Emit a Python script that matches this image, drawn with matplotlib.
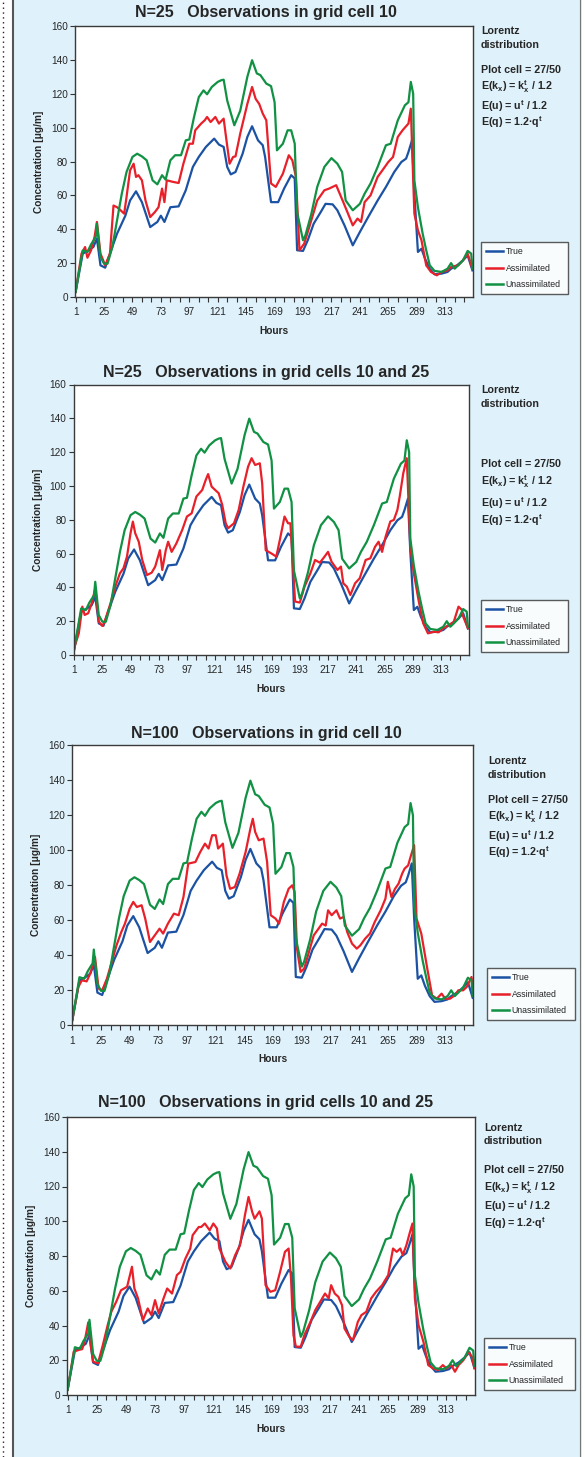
import matplotlib
matplotlib.use('Agg')
import matplotlib.pyplot as plt
from matplotlib.lines import Line2D
from matplotlib.patches import Rectangle

plt.rcParams['font.family'] = ['Liberation Sans', 'DejaVu Sans']
plt.rcParams['mathtext.fontset'] = 'custom'
plt.rcParams['mathtext.bf'] = 'Liberation Sans:bold'
plt.rcParams['mathtext.rm'] = 'Liberation Sans:bold'

# ---- data ----
hours_true = [1, 7, 12, 16, 19, 22, 26, 30, 36, 43, 47, 52, 57, 64, 70, 73, 76, 81, 88, 94,
              100, 105, 111, 118, 122, 126, 129, 132, 136, 142, 146, 150, 155, 159, 161, 166,
              172, 177, 183, 186, 188, 193, 197, 202, 208, 212, 218, 222, 228, 235, 241, 248,
              256, 263, 270, 276, 280, 282, 285, 287, 290, 293, 296, 300, 304, 310, 315, 318,
              323, 328, 332, 336]
conc_true = [3, 25.6, 27.5, 29.5, 34.5, 18.7, 17.3, 25.6, 37.4, 48, 57, 62.4, 56, 41.3, 44.3, 48,
             44.3, 53, 53.5, 63, 76.8, 82.7, 88.6, 93.5, 90, 88.6, 76.8, 72.4, 73.8, 84.6, 94.5,
             100.8, 92.5, 89.6, 82.7, 56, 56, 64, 71.9, 70, 27.6, 27.2, 33.5, 43.3, 50.2, 55, 54.7,
             51.2, 42.3, 30.5, 38.4, 47.2, 57, 65, 73.8, 79.7, 81.7, 85.6, 92.5, 61, 26.6, 28.5,
             22.6, 16.7, 13.4, 13.8, 14.8, 16.7, 18.7, 21.6, 24.6, 15.7]

hours_unassim = [1, 7, 11, 14, 18, 19, 22, 25, 28, 32, 36, 40, 44, 49, 53, 57, 61, 66, 70, 74,
                 77, 81, 85, 90, 94, 97, 101, 105, 109, 112, 116, 121, 124, 126, 129, 135, 140,
                 146, 150, 154, 157, 162, 166, 169, 171, 176, 180, 183, 186, 188, 193, 195, 200,
                 205, 211, 217, 222, 226, 229, 235, 241, 245, 250, 256, 263, 267, 273, 279, 282,
                 284, 286, 287, 290, 294, 297, 300, 304, 310, 315, 318, 321, 324, 328, 332, 335,
                 336]
conc_unassim = [3, 27.5, 26.6, 31, 35.4, 43.3, 23.6, 19.7, 19.7, 29.5, 45.3, 61, 73.8, 82.7, 84.6,
                83, 80.7, 68.9, 66.5, 71.9, 69.3, 80.7, 83.7, 83.7, 92.5, 93, 106.3, 118, 122,
                119.7, 124, 127, 128, 128.3, 116, 101.4, 110, 130, 139.8, 132, 131, 126, 124.5,
                115, 86.6, 90.5, 98.4, 98.4, 90.5, 50, 33.5, 36.4, 49, 65, 76.8, 82, 78.7, 73.8,
                57, 51.2, 55, 61, 67, 76.8, 89.6, 90.5, 104.3, 113.2, 115, 127, 120, 68.9, 53,
                37.4, 27.6, 18.7, 15.4, 14.8, 16.7, 20, 16.7, 18.7, 21.6, 27.2, 25.6, 16.7]

# assimilated runs, one per panel
hours_a1 = [1, 6, 9, 11, 14, 17, 19, 22, 26, 30, 33, 36, 39, 42, 44, 47, 50, 52, 54, 57, 60, 64,
            68, 71, 74, 76, 78, 83, 88, 92, 97, 100, 102, 107, 110, 112, 115, 119, 122, 126, 128,
            131, 134, 136, 140, 146, 150, 153, 156, 159, 162, 166, 170, 176, 181, 184, 187, 190,
            194, 200, 205, 211, 215, 221, 224, 227, 231, 235, 239, 242, 245, 250, 256, 259, 265,
            269, 273, 277, 282, 284, 287, 290, 293, 297, 301, 306, 310, 315, 318, 324, 328, 332,
            336]
conc_a1 = [3, 25.6, 29.5, 23.2, 27.5, 35.4, 44.3, 25.6, 18.7, 25.6, 54, 53, 51.2, 49.2, 59, 74.8,
           78.7, 70.9, 71.9, 68.9, 57, 47.2, 50.2, 53, 64, 56, 68.9, 68, 67.3, 78.7, 90.5, 90.5,
           98.4, 102.4, 104.3, 106.3, 103.3, 106.3, 102.4, 105.3, 94.5, 78.7, 82.7, 83, 96.5,
           114, 124, 117, 114, 108.3, 104.3, 67, 65, 72.8, 83.7, 80.7, 70.9, 27.6, 31.5, 45.3,
           57, 63, 64, 66, 61, 56, 49.2, 42.3, 46.3, 44.3, 56, 60, 70.9, 73.8, 79.7, 82.7, 94.5,
           98.4, 102.4, 111.2, 49.2, 39.4, 33.5, 18.7, 14.8, 12.8, 14.8, 15.7, 17.7, 18.7, 21.6,
           25.6, 16.7]

hours_a2 = [1, 5, 8, 10, 13, 16, 19, 22, 25, 27, 32, 36, 40, 43, 46, 49, 51, 53, 56, 59, 63, 67,
            70, 74, 76, 79, 81, 84, 88, 93, 97, 101, 105, 110, 113, 115, 118, 121, 124, 127, 130,
            132, 137, 141, 145, 149, 152, 155, 159, 161, 164, 169, 173, 176, 180, 183, 185, 189,
            193, 197, 202, 206, 210, 213, 217, 220, 225, 228, 230, 233, 236, 240, 244, 249, 253,
            257, 260, 263, 266, 270, 273, 276, 278, 281, 284, 287, 290, 294, 298, 302, 307, 311,
            315, 320, 324, 328, 331, 332, 336]
conc_a2 = [4, 12.8, 28.6, 23.7, 24.7, 30.6, 39.4, 19.7, 17.2, 19.7, 30.6, 40.4, 48.3, 51.3, 58.2,
           72, 78.9, 72, 67, 56.2, 47.3, 48.7, 52.3, 62, 50.3, 62, 67, 61, 66, 74, 81.9, 83.8,
           93.7, 97.6, 103.6, 107, 99.6, 97.6, 95.7, 88.8, 77.9, 75, 77.9, 85.8, 99.6, 111.4,
           116.4, 112.4, 113.4, 101.6, 62, 60, 58.2, 68, 81.9, 77.9, 77.9, 31.6, 31, 40.4, 48.3,
           56.2, 54.6, 57.2, 61, 55.2, 50.3, 52.3, 42.4, 40.4, 35.5, 42.4, 45.4, 56.2, 57.2, 64,
           67, 61, 70, 79, 79.9, 85.8, 93.7, 107.5, 116.4, 64, 48.3, 32.5, 18.7, 12.8, 13.8,
           13.4, 15.8, 17.8, 19.7, 28.6, 26.6, 22.7, 15.8]

hours_a3 = [1, 6, 9, 13, 16, 20, 23, 26, 30, 34, 38, 42, 45, 49, 52, 55, 59, 62, 66, 70, 74, 77,
            81, 86, 90, 94, 98, 104, 108, 112, 115, 118, 121, 123, 127, 130, 133, 137, 141, 146,
            150, 152, 154, 157, 161, 164, 167, 171, 174, 178, 182, 185, 187, 189, 192, 195, 199,
            203, 207, 210, 213, 215, 218, 222, 225, 228, 231, 235, 239, 242, 246, 250, 254, 259,
            263, 265, 268, 271, 274, 277, 279, 282, 284, 287, 289, 293, 298, 302, 306, 310, 313,
            317, 321, 324, 328, 331, 335, 336]
conc_a3 = [3, 21.9, 25.7, 25.1, 29.5, 39, 21, 20, 26.7, 36.2, 45.7, 53.3, 58, 66.7, 70.5, 67.6,
           68.6, 61, 47.6, 51.4, 55.2, 52.4, 58.1, 63.8, 62.9, 73.3, 92.4, 93.3, 99, 103.8, 101,
           108.6, 108.6, 101, 103.8, 85.7, 78, 79, 86.7, 99, 112.4, 118, 110.5, 105.7, 106.7,
           93.3, 62.9, 61, 58.1, 70.5, 78, 80, 76.2, 43.8, 30.5, 32.4, 41.9, 51.4, 55.2, 58.1,
           57, 65.7, 62.9, 65.7, 61, 61.9, 53.3, 46.7, 43.8, 45.7, 49.5, 52.4, 59, 65.7, 72.4,
           82, 73.3, 78, 81, 86.7, 89.5, 91.4, 96.2, 102.9, 61, 52.4, 32.4, 17.1, 15.2, 18.1,
           15.2, 15.2, 17.1, 20, 20, 21.9, 27.6, 21.9]

hours_a4 = [1, 3, 6, 10, 13, 15, 18, 20, 22, 26, 30, 34, 37, 41, 45, 50, 54, 56, 59, 63, 67, 70,
            73, 76, 80, 83, 87, 91, 94, 98, 102, 104, 109, 111, 114, 118, 121, 124, 126, 131, 135,
            139, 143, 147, 150, 153, 155, 159, 161, 164, 168, 172, 176, 180, 183, 185, 187, 189,
            193, 196, 201, 205, 209, 213, 216, 218, 221, 224, 227, 229, 233, 236, 240, 243, 247,
            251, 255, 260, 265, 269, 272, 275, 277, 280, 283, 285, 287, 290, 294, 298, 302, 306,
            310, 313, 317, 320, 323, 327, 331, 334, 336]
conc_a4 = [3, 11.5, 24.9, 25.9, 26.4, 30.7, 41.8, 28.7, 19.2, 18.2, 28.7, 40.2, 47.9, 53.6, 60.3,
           62.3, 73.8, 61.3, 55.6, 43.1, 49.8, 46, 54.6, 47, 55.6, 61.3, 58.4, 69, 70.9, 78.5,
           84.3, 92, 96.7, 96.7, 98.7, 94.8, 98.7, 95.8, 84.3, 76.6, 72.8, 80.5, 86.2, 103.4,
           114, 105.4, 101.5, 105.7, 101.5, 63.2, 59.4, 60.3, 70.9, 82.4, 84.3, 67, 34.5, 27.8,
           27.8, 34.5, 42.1, 48.9, 53.6, 58.4, 55.6, 63.2, 58.4, 56.5, 51.7, 38.3, 33.5, 31.6,
           42.1, 46, 47.9, 55.6, 59.4, 63.2, 69, 84.3, 82.4, 84.3, 80.5, 86.2, 93.9, 98.7, 55.6,
           40.2, 30.7, 17.2, 15.3, 14.4, 17.2, 15.3, 17.2, 13.4, 17.2, 20.1, 24.9, 22, 15.3]

titles = ['N=25   Observations in grid cell 10',
          'N=25   Observations in grid cells 10 and 25',
          'N=100   Observations in grid cell 10',
          'N=100   Observations in grid cells 10 and 25']
series_labels = ['True', 'Assimilated', 'Unassimilated']
note_lines = ['Lorentz', 'distribution', 'Plot cell = 27/50',
              r'E(k$_\mathbf{x}$) = k$_\mathbf{x}^\mathbf{t}$ / 1.2',
              r'E(u) = u$^\mathbf{t}$ / 1.2',
              r'E(q) = 1.2$\bullet$q$^\mathbf{t}$']
xtick_labels = [1, 25, 49, 73, 97, 121, 145, 169, 193, 217, 241, 265, 289, 313]

assim = [(hours_a1, conc_a1), (hours_a2, conc_a2), (hours_a3, conc_a3), (hours_a4, conc_a4)]

# ---- layout (pixels) ----
W, H = 585, 1457
c_true, c_assim, c_unassim = '#1c52a3', '#e8202a', '#119143'
bg = '#dff1fa'
txt = '#262626'

# axes box (left, top, right, bottom), title y, note x, note ys, legend box
panels = [
    dict(box=(75, 26, 473, 297), ty=13, nx=481, ny=[31, 45, 70, 87, 106, 122], leg=(481, 242, 568, 297)),
    dict(box=(73.5, 384.5, 468.5, 655), ty=372, nx=481, ny=[390, 404, 464, 482, 503, 520], leg=(481, 600, 568, 651)),
    dict(box=(71.7, 745.3, 473.3, 1025.3), ty=733, nx=488, ny=[761, 775, 800, 817, 836, 852], leg=(487, 968, 575, 1020)),
    dict(box=(67, 1117, 475, 1395), ty=1102, nx=484, ny=[1128, 1141, 1170, 1188, 1206, 1223], leg=(484, 1338, 575, 1392)),
]

fig = plt.figure(figsize=(W / 100, H / 100), dpi=100)
fig.patch.set_facecolor('white')


def fx(x):
    return x / W


def fy(y):
    return 1 - y / H


# page background and borders
fig.add_artist(Rectangle((fx(13), 0), fx(579) - fx(13), 1, transform=fig.transFigure,
                         facecolor=bg, edgecolor='none', zorder=-10))
fig.add_artist(Line2D([fx(12.5), fx(12.5)], [0, 1], transform=fig.transFigure, color='#555555', lw=1.5))
fig.add_artist(Line2D([fx(579.5), fx(579.5)], [0, 1], transform=fig.transFigure, color='#777777', lw=1.0))
fig.add_artist(Line2D([fx(2.5), fx(2.5)], [0, 1], transform=fig.transFigure, color='#222222',
                      lw=1.0, linestyle=(0, (1, 2.5))))

for i, p in enumerate(panels):
    l, t, r, b = p['box']
    ax = fig.add_axes([fx(l), fy(b), fx(r) - fx(l), fy(t) - fy(b)])
    ax.set_facecolor('white')

    h_a, c_a = assim[i]
    ax.plot(hours_true, conc_true, color=c_true, lw=1.6, solid_joinstyle='round')
    ax.plot(h_a, c_a, color=c_assim, lw=1.6, solid_joinstyle='round')
    ax.plot(hours_unassim, conc_unassim, color=c_unassim, lw=1.6, solid_joinstyle='round')

    ax.set_xlim(0.5, 336.5)
    ax.set_ylim(0, 160)
    ax.set_yticks(range(0, 161, 20))
    ax.set_xticks(xtick_labels)
    ax.set_xticks([x for x in range(1, 337, 8)], minor=True)
    ax.tick_params(axis='both', which='both', direction='out', length=3.5, width=0.8,
                   color='#333333', labelsize=7.2, labelcolor=txt, pad=1.5)
    ax.tick_params(axis='x', which='both', pad=4)
    for s in ax.spines.values():
        s.set_color('#3a3a3a')
        s.set_linewidth(1.0)

    ax.set_xlabel('Hours', fontsize=7.3, fontweight='bold', color=txt, labelpad=6)
    ax.set_ylabel('Concentration [μg/m]', fontsize=7.3, fontweight='bold', color=txt, labelpad=5)

    fig.text(fx(266), fy(p['ty']), titles[i], fontsize=11.5, fontweight='bold', color=txt,
             ha='center', va='center')

    for line, y in zip(note_lines, p['ny']):
        fig.text(fx(p['nx']), fy(y), line, fontsize=7.7, fontweight='bold', color=txt,
                 ha='left', va='center')

    handles = [Line2D([], [], color=c, lw=1.8) for c in (c_true, c_assim, c_unassim)]
    ll, lt, lr, lb = p['leg']
    leg = ax.legend(handles, series_labels, loc='upper left', mode='expand',
                    bbox_to_anchor=(fx(ll), fy(lb), fx(lr) - fx(ll), fy(lt) - fy(lb)),
                    bbox_transform=fig.transFigure, fontsize=6.3, frameon=True, fancybox=False,
                    handlelength=1.9, handletextpad=0.3, labelspacing=0.85, borderpad=0.6,
                    borderaxespad=0)
    leg.get_frame().set_edgecolor('#333333')
    leg.get_frame().set_linewidth(1.0)
    for tx in leg.get_texts():
        tx.set_color(txt)

fig.savefig('out.png', dpi=100, facecolor=fig.get_facecolor())
